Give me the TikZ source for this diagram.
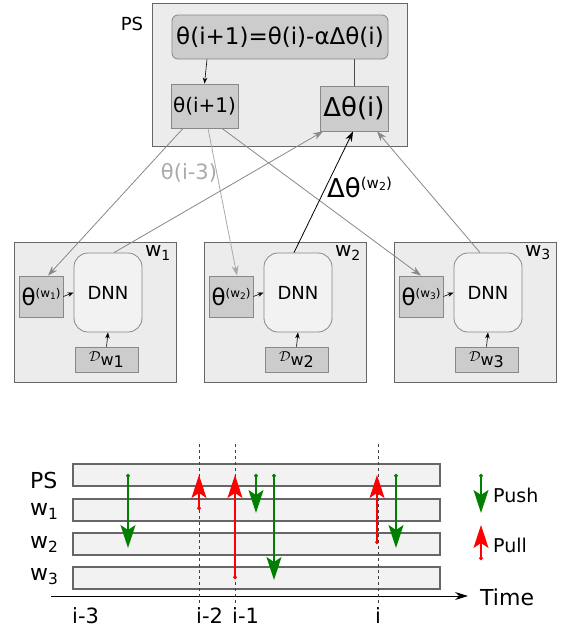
\documentclass[tikz,border=0pt]{standalone}
\usepackage{fontspec}
\setmainfont{DejaVu Sans}
\usetikzlibrary{arrows.meta,positioning}
\definecolor{boxgray}{HTML}{ECECEC}
\definecolor{cellgray}{HTML}{CCCCCC}
\definecolor{dnngray}{HTML}{F2F2F2}
\definecolor{linegray}{HTML}{888888}
\definecolor{lightline}{HTML}{AAAAAA}
\definecolor{pushgreen}{HTML}{008000}
\definecolor{pullred}{HTML}{FF0000}
\newcommand{\fs}[1]{\fontsize{#1}{#1}\selectfont}

\tikzset{
  outer/.style={draw=black!60, fill=boxgray, line width=0.8pt, inner sep=0pt},
  cell/.style={draw=linegray, fill=cellgray, line width=0.8pt, inner sep=0pt},
  dnn/.style={draw=linegray, fill=dnngray, line width=0.8pt, rounded corners=14pt,
    inner sep=0pt, minimum width=68pt, minimum height=79pt},
  link/.style={draw=linegray, line width=0.8pt, -{Stealth[length=10pt,width=7pt]}},
  feed/.style={draw=black, line width=0.6pt, -{Stealth[length=6pt,width=4.5pt]}},
  bar/.style={draw=black!60, fill=dnngray, line width=1.6pt, inner sep=0pt,
    minimum width=367pt, minimum height=22pt},
  push/.style={draw=pushgreen, fill=pushgreen, line width=1.3pt,
    {Circle[length=3.5pt]}-{Stealth[length=23pt,width=15pt,inset=5pt]}},
  pull/.style={draw=pullred, fill=pullred, line width=1.3pt,
    {Circle[length=3.5pt]}-{Stealth[length=23pt,width=15pt,inset=5pt]}},
  tick/.style={draw=black!75, line width=0.8pt, dash pattern=on 3pt off 3pt}
}

\begin{document}
\begin{tikzpicture}[x=1pt, y=-1pt]
    \useasboundingbox (0,0) rectangle (561,629);

    % parameter server
    \node[outer, minimum width=255pt, minimum height=143pt] (ps) at (279.5,74.5) {};
    \node (pslabel) at (132,24) {\fs{18}PS};
    \node[cell, rounded corners=6pt, minimum width=216pt, minimum height=44pt] (eq) at (280,37)
        {\fs{23}θ(i+1)=θ(i)-αΔθ(i)};
    \node[cell, minimum width=67pt, minimum height=44pt] (th) at (204.5,106) {\fs{20}θ(i+1)};
    \node[cell, minimum width=68pt, minimum height=45pt] (dth) at (354,108.5) {\fs{26}Δθ(i)};
    \draw[feed] ([xshift=2.5pt]eq.south west -| th.north) -- (th.north);
    \draw[draw=black!70, line width=0.8pt] (dth.north) -- (dth.north |- eq.south);

    % workers
    \foreach \k/\dx in {1/14,2/204,3/394} {
        \node[outer, minimum width=162pt, minimum height=140pt] (w\k) at (\dx+81,312) {};
        \node (wl\k) at (\dx+144,253) {\fs{20}w\textsubscript{\k}};
        \node[cell, minimum width=44pt, minimum height=41pt] (t\k) at (\dx+27,296.5)
            {\fs{23}θ\raisebox{8pt}{\fs{12}(w\raisebox{-2pt}{\fs{9}\k})}};
        \node[dnn] (d\k) at (\dx+94,292.5) {\fs{18}DNN};
        \node[cell, minimum width=63pt, minimum height=25pt] (D\k) at (\dx+92.5,359.5)
            {{\fs{15}$\mathcal{D}$}\raisebox{-4pt}{\fs{16}w\raisebox{-2pt}{\k}}};
        \draw[feed] (t\k.east) -- (d\k.west);
        \draw[feed] (D\k.north) -- (d\k.south);
    }

    % pulls from the server
    \draw[link] ([xshift=-21.5pt]th.south) -- ([xshift=7pt]t1.north);
    \draw[link, draw=lightline] ([xshift=3.5pt]th.south) -- ([xshift=6pt]t2.north);
    \draw[link] ([xshift=17.5pt]th.south) -- (t3.north);
    \node[text=lightline] (old) at (189,173) {\fs{21}θ(i-3)};

    % pushes to the server
    \draw[link] ([xshift=6pt]d1.north) -- ([xshift=-31pt]dth.south);
    \draw[link, draw=black] ([xshift=-4pt]d2.north) -- ([xshift=-1pt]dth.south);
    \draw[link] ([xshift=-8pt]d3.north) -- ([xshift=23pt]dth.south);
    \node[anchor=west, inner sep=0pt] (grad) at (327,187)
        {\fs{26}Δθ\raisebox{9pt}{\fs{15}(w\raisebox{-2pt}{\fs{11}2})}};

    % timeline
    \foreach \r/\y in {PS/475,w1/510,w2/544,w3/578}
        \node[bar] (bar\r) at (256.5,\y) {};
    \node[anchor=base west, inner sep=0pt] (lPS) at (30,488) {\fs{22}PS};
    \foreach \k/\y in {1/515,2/548,3/580}
        \node[anchor=base west, inner sep=0pt] (lw\k) at (30,\y) {\fs{22}w\textsubscript{\k}};

    \coordinate (t0) at (51,596);
    \coordinate (t1end) at (468,596);
    \draw[line width=1pt, -{Stealth[length=13pt,width=8pt]}] (t0) -- (t1end);
    \node[anchor=base west, inner sep=0pt] (time) at (480,605) {\fs{22}Time};

    \foreach \x in {199,235,378}
        \draw[tick] (\x,444) -- (\x,604);
    \node[anchor=base west, inner sep=0pt] (im3) at (72,623) {\fs{21}i-3};
    \node[anchor=base west, inner sep=0pt] (im2) at (196,623) {\fs{21}i-2};
    \node[anchor=base west, inner sep=0pt] (im1) at (232,623) {\fs{21}i-1};
    \node[anchor=base, inner sep=0pt] (ii) at (378,623) {\fs{21}i};

    \foreach \x/\ya/\yb in {128/474/548,256/474/513,274/474/580,396/474/548,481/474/513}
        \draw[push] (\x,\ya) -- (\x,\yb);
    \foreach \x/\ya/\yb in {199/510/475,235/579/475,377/544/475,481/560/525}
        \draw[pull] (\x,\ya) -- (\x,\yb);
    \node[anchor=base west, inner sep=0pt] (lpush) at (493,502) {\fs{19}Push};
    \node[anchor=base west, inner sep=0pt] (lpull) at (493,552) {\fs{19}Pull};
\end{tikzpicture}
\end{document}
